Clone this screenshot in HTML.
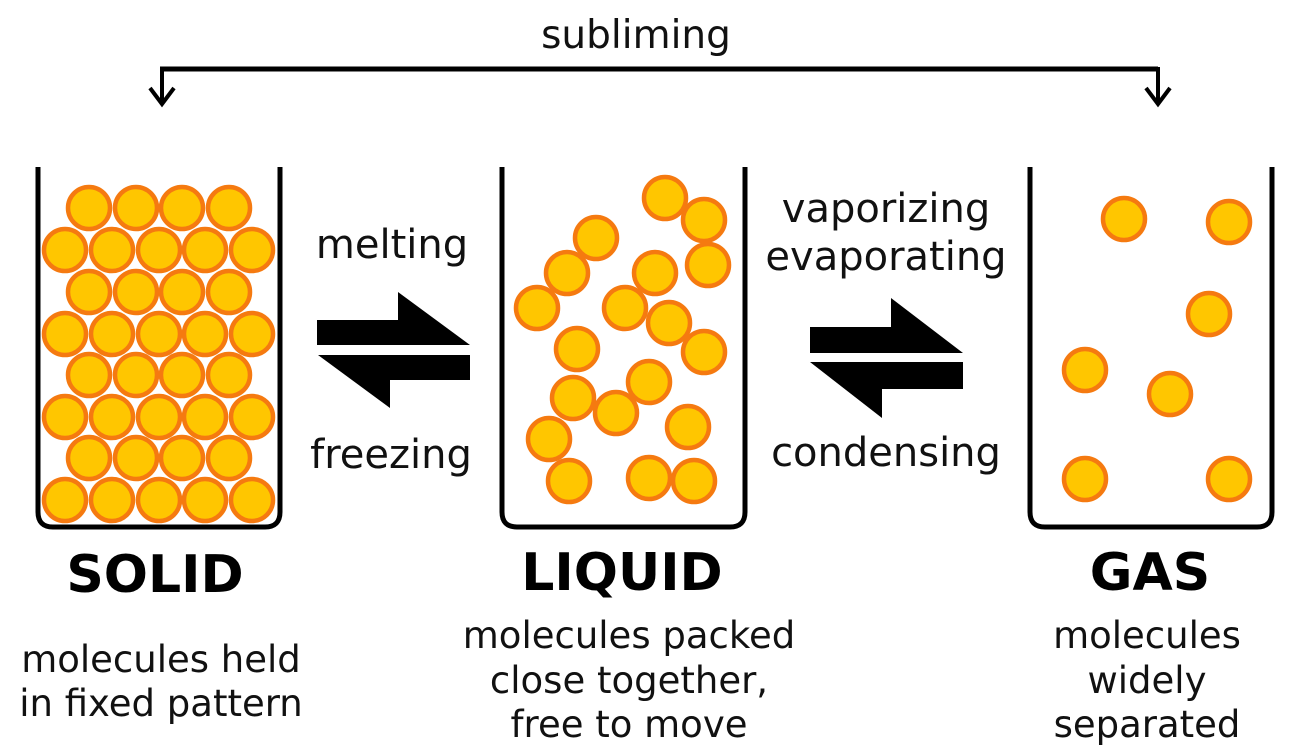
<!DOCTYPE html>
<html><head><meta charset="utf-8"><style>html,body{margin:0;padding:0;background:#fff}svg{display:block}</style></head>
<body>
<svg width="1300" height="756" viewBox="0 0 1300 756" xmlns="http://www.w3.org/2000/svg" font-family="'DejaVu Sans','Liberation Sans',sans-serif">
<rect width="1300" height="756" fill="#fff"/>
<text x="636" y="48" font-size="39" text-anchor="middle" fill="#111">subliming</text>
<path d="M160 69 H1158" stroke="#000" stroke-width="5"/>
<path d="M162 67 V102 M1158 67 V102" stroke="#000" stroke-width="4"/>
<path d="M150 88 L162 104 L174 88 M1146 88 L1158 104 L1170 88" stroke="#000" stroke-width="4" fill="none"/>
<g fill="none" stroke="#000" stroke-width="5">
<path d="M38 167 V512 Q38 527 53 527 H265 Q280 527 280 512 V167"/>
<path d="M502 167 V512 Q502 527 517 527 H730 Q745 527 745 512 V167"/>
<path d="M1030 167 V512 Q1030 527 1045 527 H1257 Q1272 527 1272 512 V167"/>
</g>
<g fill="#ffc600" stroke="#f57a10" stroke-width="4.5">
<g id="r4"><circle cx="89" cy="208" r="21"/><circle cx="136" cy="208" r="21"/><circle cx="182" cy="208" r="21"/><circle cx="229" cy="208" r="21"/></g>
<g id="r5"><circle cx="65" cy="250" r="21"/><circle cx="112" cy="250" r="21"/><circle cx="159" cy="250" r="21"/><circle cx="205" cy="250" r="21"/><circle cx="252" cy="250" r="21"/></g>
<use href="#r4" y="84"/><use href="#r5" y="84"/>
<use href="#r4" y="167"/><use href="#r5" y="167"/>
<use href="#r4" y="250"/><use href="#r5" y="250"/>
<circle cx="665" cy="198" r="21"/><circle cx="704" cy="220" r="21"/><circle cx="596" cy="238" r="21"/>
<circle cx="708" cy="265" r="21"/><circle cx="567" cy="273" r="21"/><circle cx="655" cy="273" r="21"/>
<circle cx="537" cy="308" r="21"/><circle cx="625" cy="308" r="21"/><circle cx="669" cy="323" r="21"/>
<circle cx="704" cy="352" r="21"/><circle cx="577" cy="349" r="21"/><circle cx="649" cy="382" r="21"/>
<circle cx="573" cy="398" r="21"/><circle cx="616" cy="413" r="21"/><circle cx="688" cy="427" r="21"/>
<circle cx="549" cy="439" r="21"/><circle cx="569" cy="481" r="21"/><circle cx="649" cy="478" r="21"/><circle cx="694" cy="481" r="21"/>
<circle cx="1124" cy="219" r="21"/><circle cx="1229" cy="222" r="21"/><circle cx="1209" cy="314" r="21"/>
<circle cx="1085" cy="370" r="21"/><circle cx="1170" cy="394" r="21"/><circle cx="1085" cy="479" r="21"/><circle cx="1229" cy="479" r="21"/>
</g>
<g fill="#000">
<path d="M317 320 H398 V292 L470 345 H317 Z"/>
<path d="M470 355 V380 H390 V408 L318 355 Z"/>
<path d="M810 327 H891 V298 L963 353 H810 Z"/>
<path d="M963 362 V389 H882 V418 L810 362 Z"/>
</g>
<g font-size="40" fill="#111" text-anchor="middle">
<text x="392" y="258">melting</text>
<text x="391" y="468">freezing</text>
<text x="886" y="222">vaporizing</text>
<text x="886" y="270">evaporating</text>
<text x="886" y="466">condensing</text>
</g>
<g font-size="52" font-weight="bold" fill="#000" text-anchor="middle">
<text x="155" y="592">SOLID</text>
<text x="622" y="590">LIQUID</text>
<text x="1150" y="590">GAS</text>
</g>
<g font-size="37" fill="#111" text-anchor="middle">
<text x="161" y="672">molecules held</text>
<text x="161" y="716">in fixed pattern</text>
<text x="629" y="648">molecules packed</text>
<text x="629" y="693">close together,</text>
<text x="629" y="737">free to move</text>
<text x="1147" y="648">molecules</text>
<text x="1147" y="693">widely</text>
<text x="1147" y="737">separated</text>
</g>
</svg>
</body></html>
